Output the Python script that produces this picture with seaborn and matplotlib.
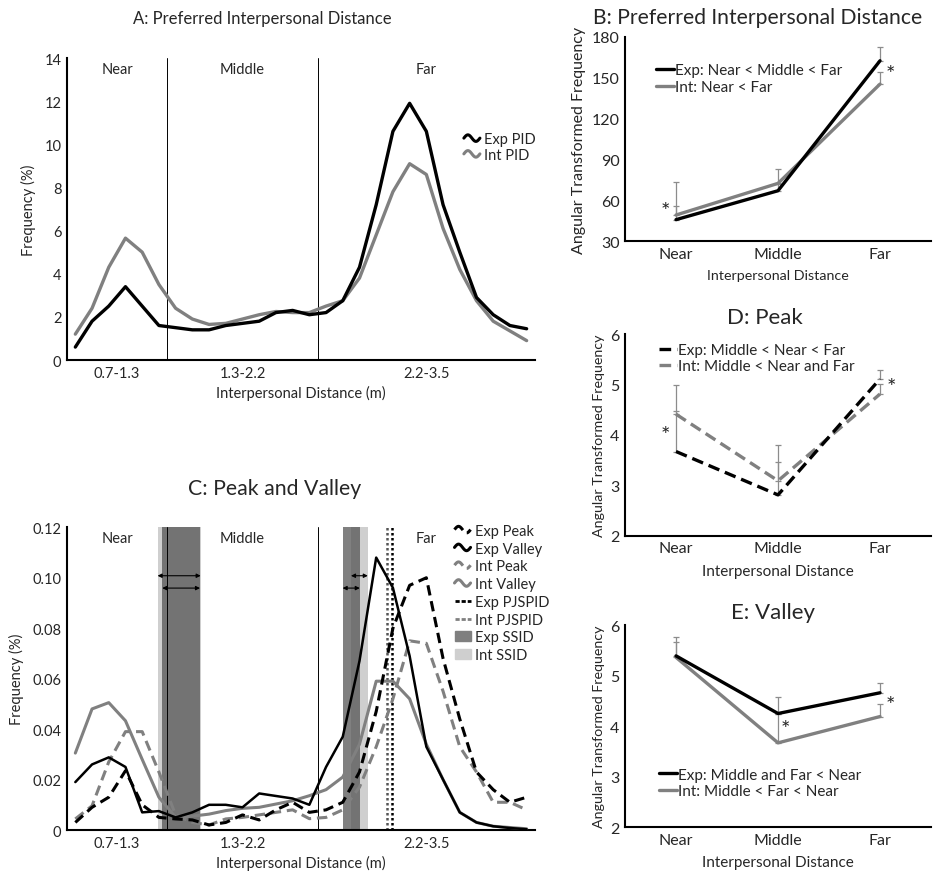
import numpy as np
import matplotlib
matplotlib.use("Agg")
import matplotlib.pyplot as plt
import seaborn as sns
from matplotlib.lines import Line2D
from matplotlib.patches import Patch
from matplotlib.legend_handler import HandlerBase

sns.set_style("white")
plt.rcParams['font.family'] = ['Lato', 'DejaVu Sans']

# ------------------ Data ------------------
# distance bins 0.7 .. 3.4 m (28 bins), grouped into three zones
bins = list(range(28))
zone_names = ["Near", "Middle", "Far"]
zone_ticks = ["0.7-1.3", "1.3-2.2", "2.2-3.5"]
zone_edges = [-0.5, 5.5, 14.5, 27.5]

# A: preferred interpersonal distance (%)
exp_pid = [0.6, 1.8, 2.5, 3.4, 2.5, 1.6, 1.5, 1.4, 1.4, 1.6, 1.7, 1.8, 2.2, 2.3,
           2.1, 2.2, 2.75, 4.3, 7.2, 10.6, 11.9, 10.6, 7.2, 5.0, 2.9, 2.1, 1.6, 1.45]
int_pid = [1.2, 2.4, 4.3, 5.65, 5.0, 3.5, 2.4, 1.9, 1.65, 1.7, 1.9, 2.1, 2.25, 2.2,
           2.2, 2.5, 2.75, 3.8, 5.8, 7.8, 9.1, 8.6, 6.1, 4.2, 2.75, 1.8, 1.35, 0.9]

# C: peak and valley
exp_peak = [0.003, 0.009, 0.013, 0.0235, 0.010, 0.005, 0.0044, 0.004, 0.002, 0.003,
            0.006, 0.004, 0.008, 0.011, 0.007, 0.008, 0.011, 0.023, 0.047, 0.080,
            0.097, 0.100, 0.068, 0.044, 0.023, 0.016, 0.011, 0.013]
exp_valley = [0.019, 0.026, 0.0288, 0.025, 0.007, 0.0075, 0.005, 0.007, 0.010, 0.010,
              0.009, 0.0145, 0.0135, 0.0125, 0.010, 0.025, 0.037, 0.067, 0.108, 0.096,
              0.069, 0.033, 0.020, 0.007, 0.003, 0.0015, 0.0008, 0.0003]
int_peak = [0.0044, 0.0096, 0.027, 0.039, 0.039, 0.023, 0.006, 0.003, 0.002, 0.0044,
            0.005, 0.006, 0.007, 0.008, 0.0045, 0.005, 0.008, 0.017, 0.033, 0.052,
            0.075, 0.074, 0.055, 0.033, 0.023, 0.011, 0.011, 0.008]
int_valley = [0.0305, 0.048, 0.0505, 0.0433, 0.028, 0.013, 0.005, 0.0055, 0.0063, 0.0077,
              0.0086, 0.009, 0.0103, 0.0116, 0.0136, 0.016, 0.021, 0.034, 0.059, 0.059,
              0.052, 0.034, 0.020, 0.007, 0.003, 0.0015, 0.001, 0.0005]
exp_pjspid = 18.97
int_pjspid = 18.67
exp_ssid = [(5.2, 7.46), (15.99, 17.02)]
int_ssid = [(4.92, 7.5), (16.49, 17.5)]

# B, D, E: angular transformed frequency per zone
b_exp, b_exp_err = [45.9, 67.1, 162.4], [10, 5, 10]
b_int, b_int_err = [49.3, 72.5, 145.3], [24, 10.5, 9]
d_exp, d_exp_err = [3.67, 2.81, 5.11], [0.81, 0.66, 0.18]
d_int, d_int_err = [4.41, 3.09, 4.81], [0.58, 0.70, 0.2]
e_exp, e_exp_err = [5.39, 4.25, 4.66], [0.37, 0.32, 0.19]
e_int, e_int_err = [5.36, 3.67, 4.19], [0.3, 0.58, 0.25]

GRAY = "#808080"


# squiggle legend keys like the original
class Squiggle(HandlerBase):
    def create_artists(self, legend, orig, xd, yd, width, height, fontsize, trans):
        t = np.linspace(0, 1, 40)
        xs = -xd + t * width
        ys = -yd + height / 2 + height * 0.32 * np.sin(2 * np.pi * t)
        ln = Line2D(xs, ys, color=orig.get_color(), lw=orig.get_linewidth(),
                    ls=orig.get_linestyle())
        ln.set_transform(trans)
        return [ln]


def base_style(ax):
    sns.despine(ax=ax)
    for s in ["left", "bottom"]:
        ax.spines[s].set_linewidth(1.5)
        ax.spines[s].set_color("black")
    ax.tick_params(length=0, labelsize=10.5, pad=4)


def dist_axes(ax, ymax, step, name_y):
    base_style(ax)
    ax.set_xlim(zone_edges[0], zone_edges[-1])
    ax.set_ylim(0, ymax)
    ax.set_yticks(np.arange(0, ymax + step / 2, step))
    for e in zone_edges[1:-1]:
        ax.axvline(e, color="black", lw=0.7, zorder=1)
    centers = [(a + b) / 2 for a, b in zip(zone_edges[:-1], zone_edges[1:])]
    ax.set_xticks(centers, zone_ticks)
    for c, n in zip(centers, zone_names):
        ax.text(c, name_y, n, ha="center", va="center", fontsize=10.5)
    ax.set_xlabel("Interpersonal Distance (m)", fontsize=10.5, labelpad=4)
    ax.set_ylabel("Frequency (%)", fontsize=10.5, labelpad=6)


def zone_axes(ax, ylo, yhi, yticks, fs_x, fs_y):
    base_style(ax)
    ax.tick_params(labelsize=11.5)
    ax.set_xlim(-0.5, 2.5)
    ax.set_ylim(ylo, yhi)
    ax.set_yticks(yticks)
    ax.set_xlabel("Interpersonal Distance", fontsize=fs_x, labelpad=6)
    ax.set_ylabel("Angular Transformed Frequency", fontsize=fs_y, labelpad=4)


def up_err(ax, y, err):
    ax.errorbar([0, 1, 2], y, yerr=[[0, 0, 0], err], fmt="none", ecolor="#8c8c8c",
                elinewidth=0.9, capsize=2.5, capthick=0.9, zorder=1)


fig = plt.figure(figsize=(9.34, 8.78), dpi=100)
axA = fig.add_axes([0.0717, 0.5888, 0.5011, 0.3440])
axC = fig.add_axes([0.0717, 0.0535, 0.5011, 0.3448])
axB = fig.add_axes([0.6692, 0.7240, 0.3276, 0.2330])
axD = fig.add_axes([0.6692, 0.3887, 0.3276, 0.2297])
axE = fig.add_axes([0.6692, 0.0566, 0.3276, 0.2304])

# ------------------ A ------------------
dist_axes(axA, 14, 2, 13.5)
sns.lineplot(x=bins, y=exp_pid, color="black", lw=2.4, ax=axA, zorder=3)
sns.lineplot(x=bins, y=int_pid, color=GRAY, lw=2.4, ax=axA, zorder=2)
hA = [Line2D([], [], color="black", lw=2.2), Line2D([], [], color=GRAY, lw=2.2)]
axA.legend(hA, ["Exp PID", "Int PID"], handler_map={Line2D: Squiggle()},
           loc="center left", bbox_to_anchor=(0.82, 0.705), frameon=False,
           fontsize=10.5, handlelength=1.1, handletextpad=0.3, labelspacing=0.12)

# ------------------ C ------------------
dist_axes(axC, 0.12, 0.02, 0.1158)
axC.yaxis.set_major_formatter(plt.FuncFormatter(lambda v, p: "0" if v == 0 else f"{v:.2f}"))
for lo, hi in int_ssid:
    axC.axvspan(lo, hi, color="#cfcfcf", lw=0, zorder=0)
for lo, hi in exp_ssid:
    axC.axvspan(lo, hi, color="#555555", alpha=0.75, lw=0, zorder=0.5)
for (lo, hi) in int_ssid:
    axC.annotate("", xy=(lo, 0.1008), xytext=(hi, 0.1008),
                 arrowprops=dict(arrowstyle="<|-|>", color="black", lw=0.8,
                                 mutation_scale=6, shrinkA=0, shrinkB=0))
for (lo, hi) in exp_ssid:
    axC.annotate("", xy=(lo, 0.0959), xytext=(hi, 0.0959),
                 arrowprops=dict(arrowstyle="<|-|>", color="black", lw=0.8,
                                 mutation_scale=6, shrinkA=0, shrinkB=0))
axC.axvline(int_pjspid, color="#555555", lw=1.8, ls=(0, (1, 1)), zorder=2)
axC.axvline(exp_pjspid, color="black", lw=1.8, ls=(0, (1, 1)), zorder=2)
dash = (0, (3.4, 1.9))
sns.lineplot(x=bins, y=int_valley, color=GRAY, lw=2.2, ax=axC, zorder=3)
sns.lineplot(x=bins, y=int_peak, color=GRAY, lw=2.2, ls=dash, ax=axC, zorder=3)
sns.lineplot(x=bins, y=exp_peak, color="black", lw=2.2, ls=dash, ax=axC, zorder=4)
sns.lineplot(x=bins, y=exp_valley, color="black", lw=1.8, ax=axC, zorder=4)
hC = [Line2D([], [], color="black", lw=2.2, ls=(0, (2, 1))),
      Line2D([], [], color="black", lw=2.2),
      Line2D([], [], color=GRAY, lw=2.2, ls=(0, (2, 1))),
      Line2D([], [], color=GRAY, lw=2.2)]
hC2 = [Line2D([], [], color="black", lw=2, ls=(0, (1.5, 0.7))),
       Line2D([], [], color=GRAY, lw=2, ls=(0, (1.5, 0.7))),
       Patch(color="#7f7f7f"), Patch(color="#cfcfcf")]
axC.legend(hC + hC2, ["Exp Peak", "Exp Valley", "Int Peak", "Int Valley",
                      "Exp PJSPID", "Int PJSPID", "Exp SSID", "Int SSID"],
           handler_map={hC[0]: Squiggle(), hC[1]: Squiggle(), hC[2]: Squiggle(),
                        hC[3]: Squiggle()},
           loc="center left", bbox_to_anchor=(0.80, 0.783), frameon=False,
           fontsize=10.5, handlelength=1.1, handletextpad=0.3, labelspacing=0.26)

# ------------------ B ------------------
zone_axes(axB, 30, 180, [30, 60, 90, 120, 150, 180], 10.3, 11.5)
up_err(axB, b_exp, b_exp_err)
up_err(axB, b_int, b_int_err)
sns.lineplot(x=zone_names, y=b_int, color=GRAY, lw=2.4, ax=axB, zorder=2,
             label="Int: Near < Far")
sns.lineplot(x=zone_names, y=b_exp, color="black", lw=2.4, ax=axB, zorder=3,
             label="Exp: Near < Middle < Far")
hB, lB = axB.get_legend_handles_labels()
axB.legend(hB[::-1], lB[::-1], loc="center left", bbox_to_anchor=(0.055, 0.795),
           frameon=False, fontsize=11, handlelength=1.2, handletextpad=0.05,
           labelspacing=0.22)
axB.text(-0.1, 52, "*", fontsize=16, ha="center", va="center")
axB.text(2.1, 153, "*", fontsize=16, ha="center", va="center")

# ------------------ D ------------------
zone_axes(axD, 2, 6, [2, 3, 4, 5, 6], 11, 10.3)
up_err(axD, d_exp, d_exp_err)
up_err(axD, d_int, d_int_err)
sns.lineplot(x=zone_names, y=d_int, color=GRAY, lw=2.4, ls=(0, (3.5, 1.8)), ax=axD,
             zorder=2, label="Int: Middle < Near and Far")
sns.lineplot(x=zone_names, y=d_exp, color="black", lw=2.4, ls=(0, (3.5, 1.8)), ax=axD,
             zorder=3, label="Exp: Middle < Near < Far")
hD, lD = axD.get_legend_handles_labels()
axD.legend(hD[::-1], lD[::-1], loc="center left", bbox_to_anchor=(0.065, 0.88),
           frameon=False, fontsize=11, handlelength=1.2, handletextpad=0.05,
           labelspacing=0.15)
axD.text(-0.1, 4.0, "*", fontsize=16, ha="center", va="center")
axD.text(2.11, 4.95, "*", fontsize=16, ha="center", va="center")

# ------------------ E ------------------
zone_axes(axE, 2, 6, [2, 3, 4, 5, 6], 11, 10.3)
up_err(axE, e_exp, e_exp_err)
up_err(axE, e_int, e_int_err)
sns.lineplot(x=zone_names, y=e_int, color=GRAY, lw=2.4, ax=axE, zorder=2,
             label="Int: Middle < Far < Near")
sns.lineplot(x=zone_names, y=e_exp, color="black", lw=2.4, ax=axE, zorder=3,
             label="Exp: Middle and Far < Near")
hE, lE = axE.get_legend_handles_labels()
axE.legend(hE[::-1], lE[::-1], loc="center left", bbox_to_anchor=(0.065, 0.22),
           frameon=False, fontsize=11, handlelength=1.2, handletextpad=0.05,
           labelspacing=0.15)
axE.text(1.07, 3.95, "*", fontsize=16, ha="center", va="center")
axE.text(2.1, 4.42, "*", fontsize=16, ha="center", va="center")

# ------------------ Titles ------------------
fig.text(0.2805, 0.978, "A: Preferred Interpersonal Distance", fontsize=12,
         ha="center", va="center")
fig.text(0.2944, 0.443, "C: Peak and Valley", fontsize=15.3, ha="center", va="center")
fig.text(0.8116, 0.979, "B: Preferred Interpersonal Distance", fontsize=15.2,
         ha="center", va="center")
fig.text(0.819, 0.638, "D: Peak", fontsize=16, ha="center", va="center")
fig.text(0.8276, 0.302, "E: Valley", fontsize=16, ha="center", va="center")

fig.savefig("out.png", dpi=100)
